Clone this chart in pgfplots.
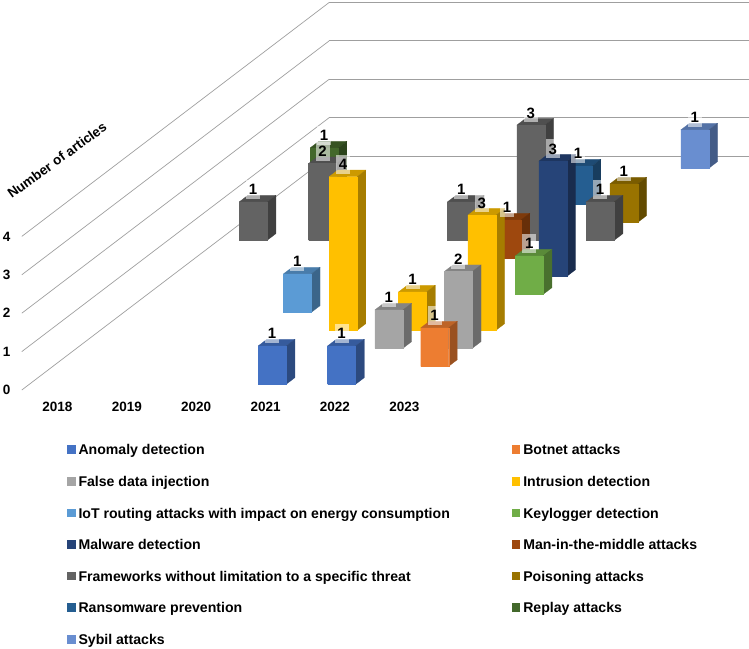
\documentclass[border=0pt]{standalone}
\usepackage{pgfplots}
\usepackage{pgfplotstable}
\usepackage{fontspec}
\setmainfont{Liberation Sans}
\pgfplotsset{compat=1.18}

\definecolor{cAnomaly}{HTML}{4472C4}
\definecolor{cBotnet}{HTML}{ED7D31}
\definecolor{cFalse}{HTML}{A5A5A5}
\definecolor{cIntrusion}{HTML}{FFC000}
\definecolor{cIoT}{HTML}{5B9BD5}
\definecolor{cKeylogger}{HTML}{70AD47}
\definecolor{cMalware}{HTML}{264478}
\definecolor{cMitm}{HTML}{9E480E}
\definecolor{cFrameworks}{HTML}{636363}
\definecolor{cPoisoning}{HTML}{997300}
\definecolor{cRansomware}{HTML}{255E91}
\definecolor{cReplay}{HTML}{43682B}
\definecolor{cSybil}{HTML}{698ED0}

% year, depth slot (0 = front), number of articles, colour; back to front = paint order
\pgfplotstableread{
year cat n col
2023 12 1 cSybil
2018 11 1 cReplay
2022 10 1 cRansomware
2023 9 1 cPoisoning
2018 8 1 cFrameworks
2019 8 2 cFrameworks
2021 8 1 cFrameworks
2022 8 3 cFrameworks
2023 8 1 cFrameworks
2022 7 1 cMitm
2023 6 3 cMalware
2023 5 1 cKeylogger
2020 4 1 cIoT
2021 3 4 cIntrusion
2022 3 1 cIntrusion
2023 3 3 cIntrusion
2022 2 1 cFalse
2023 2 2 cFalse
2023 1 1 cBotnet
2021 0 1 cAnomaly
2022 0 1 cAnomaly
}\bars

\newcommand{\key}[1]{\addlegendimage{legend image code/.code={\fill[#1] (0pt,-1.75pt) rectangle (7.5pt,5.75pt);},fill=#1}}

\begin{document}
\begin{tikzpicture}
\begin{axis}[
  x={(69.4pt,0pt)}, y={(23.65pt,18pt)}, z={(0pt,38.4pt)},
  xmin=2017.5, xmax=2023.56, ymin=0, ymax=13, zmin=0, zmax=4,
  clip=false,
  axis line style={draw=none},
  major tick length=0pt,
  xtick={2018,...,2023},
  xticklabels={2018,2019,2020,2021,2022,2023},
  ytick=\empty,
  ztick={0,...,4},
  zticklabels={0,1,2,3,4},
  zmajorgrids,
  grid style={gray!75,line width=0.7pt},
  ticklabel style={font=\fontsize{13.5}{15}\selectfont\bfseries,text=black},
  xticklabel style={xshift=5pt,yshift=-9pt},
  zticklabel style={xshift=-8pt,yshift=2.5pt},
  zlabel={Number of articles},
  every axis z label/.style={at={(axis description cs:0.0484,0.593)},rotate=36,anchor=center,font=\fontsize{13.5}{15}\selectfont\bfseries},
  legend columns=2,
  legend cell align=left,
  legend style={
    at={(axis description cs:0.062,-0.141)},anchor=north west,
    draw=none,fill=none,inner sep=0pt,row sep=18.6pt,
    font=\fontsize{14.1}{15}\selectfont\bfseries,
    nodes={text height=10pt,text depth=3pt,inner sep=0pt,outer sep=0pt},
    /tikz/every odd column/.append style={column sep=3.5pt},
    /tikz/every even column/.append style={column sep=62pt},
  },
]
\path (axis cs:2017.5,0,0) coordinate (O);

\pgfplotstablegetrowsof{\bars}
\pgfmathtruncatemacro{\last}{\pgfplotsretval-1}
\pgfplotsforeachungrouped \i in {0,...,\last}{
  \pgfplotstablegetelem{\i}{year}\of\bars \let\yr\pgfplotsretval
  \pgfplotstablegetelem{\i}{cat}\of\bars \let\ct\pgfplotsretval
  \pgfplotstablegetelem{\i}{n}\of\bars \let\nn\pgfplotsretval
  \pgfplotstablegetelem{\i}{col}\of\bars \let\cc\pgfplotsretval
  \pgfmathsetmacro{\xa}{\yr-0.2017}
  \pgfmathsetmacro{\xb}{\yr+0.2017}
  \pgfmathsetmacro{\ya}{\ct+0.315}
  \pgfmathsetmacro{\yb}{\ct+0.685}
  \edef\temp{\noexpand\addplot3[forget plot,fill=\cc!80!black,draw=\cc!80!black,line width=0.2pt] coordinates {(\xa,\ya,\nn)(\xb,\ya,\nn)(\xb,\yb,\nn)(\xa,\yb,\nn)(\xa,\ya,\nn)};
    \noexpand\addplot3[forget plot,fill=\cc!65!black,draw=\cc!65!black,line width=0.2pt] coordinates {(\xb,\ya,0)(\xb,\yb,0)(\xb,\yb,\nn)(\xb,\ya,\nn)(\xb,\ya,0)};
    \noexpand\addplot3[forget plot,fill=\cc,draw=\cc,line width=0.2pt] coordinates {(\xa,\ya,0)(\xb,\ya,0)(\xb,\ya,\nn)(\xa,\ya,\nn)(\xa,\ya,0)};}
  \temp
}

% data labels sit on top of all the bars
\addplot3[forget plot,draw=none,mark=none,
  nodes near coords,
  point meta=explicit,
  every node near coord/.style={anchor=center,yshift=12.2pt,fill=white,fill opacity=0.55,text opacity=1,
    minimum width=14pt,minimum height=19pt,inner sep=0pt,text=black,
    font=\fontsize{15}{15}\selectfont\bfseries,/pgf/number format/assume math mode=true},
] table[x=year,y expr=\thisrow{cat}+0.315,z=n,meta=n]{\bars};

\key{cAnomaly}\addlegendentry{Anomaly detection}
\key{cBotnet}\addlegendentry{Botnet attacks}
\key{cFalse}\addlegendentry{False data injection}
\key{cIntrusion}\addlegendentry{Intrusion detection}
\key{cIoT}\addlegendentry{IoT routing attacks with impact on energy consumption}
\key{cKeylogger}\addlegendentry{Keylogger detection}
\key{cMalware}\addlegendentry{Malware detection}
\key{cMitm}\addlegendentry{Man-in-the-middle attacks}
\key{cFrameworks}\addlegendentry{Frameworks without limitation to a specific threat}
\key{cPoisoning}\addlegendentry{Poisoning attacks}
\key{cRansomware}\addlegendentry{Ransomware prevention}
\key{cReplay}\addlegendentry{Replay attacks}
\key{cSybil}\addlegendentry{Sybil attacks}
\end{axis}
\pgfresetboundingbox
\path[use as bounding box] ([shift={(-21.8pt,-258pt)}]O) rectangle ([shift={(727.2pt,390pt)}]O);
\end{tikzpicture}
\end{document}
